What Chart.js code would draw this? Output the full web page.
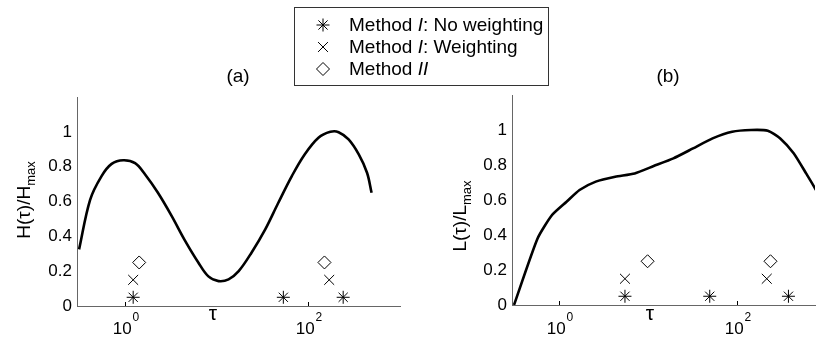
<!DOCTYPE html>
<html lang="en">
<head>
<meta charset="UTF-8">
<title>H and L vs tau</title>
<script src="https://cdn.jsdelivr.net/npm/chart.js"></script>
<style>
  body { margin: 0; background: #fff; }
  .wrap { position: relative; width: 823px; height: 340px; }
  .wrap canvas { position: absolute; left: 0; top: 0; }
</style>
</head>
<body>
<div class="wrap">
  <canvas id="chartA" width="823" height="340"></canvas>
  <canvas id="chartB" width="823" height="340"></canvas>
</div>
<script>
// panel (a): H(tau)/Hmax
const tauA = [0.316, 0.417, 0.556, 0.716, 0.959, 1.29, 1.66, 2.29, 3.24, 4.47, 6.31, 8.13, 10.5, 13.5, 17.4, 24.0, 33.9, 46.8, 66.1, 91.2, 129, 174, 214, 275, 355, 437, 490];
const hA = [0.325, 0.61, 0.746, 0.816, 0.837, 0.82, 0.755, 0.65, 0.516, 0.38, 0.25, 0.17, 0.143, 0.153, 0.2, 0.306, 0.44, 0.59, 0.746, 0.87, 0.966, 1.0, 0.998, 0.956, 0.87, 0.765, 0.65];
// panel (b): L(tau)/Lmax
const tauB = [0.316, 0.581, 0.845, 1.23, 1.72, 2.62, 4.33, 7.16, 11.7, 19.5, 32.4, 53.7, 89.1, 145, 224, 309, 437, 603, 776, 891];
const lB = [0, 0.38, 0.514, 0.59, 0.657, 0.705, 0.733, 0.752, 0.794, 0.838, 0.895, 0.952, 0.99, 1.0, 0.996, 0.952, 0.867, 0.752, 0.657, 0.57];

// estimated time scales from each method
const noWeightA = [[1.23, 0.05], [53.4, 0.05], [240, 0.05]];
const weightA = [[1.23, 0.15], [169, 0.15]];
const methodTwoA = [[1.43, 0.25], [150, 0.25]];
const noWeightB = [[5.57, 0.05], [49.9, 0.05], [382, 0.05]];
const weightB = [[5.57, 0.15], [218, 0.15]];
const methodTwoB = [[10, 0.25], [240, 0.25]];

const yTicks = [0, 0.2, 0.4, 0.6, 0.8, 1];
const xTicks = [1, 100];
const legendLabels = [['Method ', 'I', ': No weighting'], ['Method ', 'I', ': Weighting'], ['Method ', 'II', '']];

const FONT = '"Liberation Sans", Arial, Helvetica, sans-serif';
const toPts = arr => arr.map(p => ({ x: p[0], y: p[1] }));

function markerSet(label, pts, style, r) {
  return {
    label: label, data: toPts(pts), showLine: false,
    pointStyle: style, pointRadius: r, pointHoverRadius: r,
    borderColor: '#000', backgroundColor: 'rgba(0,0,0,0)', pointBorderWidth: 1
  };
}

// axes text, inside ticks, subscripts and superscripts
const decor = {
  id: 'decor',
  afterDraw(chart, args, opts) {
    const ctx = chart.ctx;
    const xs = chart.scales.x;
    const area = chart.chartArea;
    ctx.save();
    ctx.fillStyle = '#000';
    ctx.strokeStyle = '#000';
    ctx.lineWidth = 1;
    // inward x ticks and 10^n labels
    xTicks.forEach(v => {
      const px = Math.round(xs.getPixelForValue(v)) + 0.5;
      ctx.beginPath();
      ctx.moveTo(px, area.bottom);
      ctx.lineTo(px, area.bottom - 4);
      ctx.stroke();
      const exp = String(Math.round(Math.log10(v)));
      ctx.font = '17px ' + FONT;
      const wb = ctx.measureText('10').width;
      ctx.font = '12px ' + FONT;
      const we = ctx.measureText(exp).width;
      const x0 = px - (wb + we) / 2;
      ctx.textBaseline = 'alphabetic';
      ctx.textAlign = 'left';
      ctx.font = '17px ' + FONT;
      ctx.fillText('10', x0, 334);
      ctx.font = '12px ' + FONT;
      ctx.fillText(exp, x0 + wb + 1, 321);
    });
    // x label
    ctx.font = '21px ' + FONT;
    ctx.textAlign = 'center';
    ctx.fillText('\u03c4', opts.tauX, 320);
    // title
    ctx.font = '19px ' + FONT;
    ctx.fillText(opts.title, opts.titleX, 82);
    // y label rotated with subscript
    ctx.translate(opts.yLabX, opts.yLabY);
    ctx.rotate(-Math.PI / 2);
    ctx.font = '19px ' + FONT;
    const main = opts.yLab + '(\u03c4)/' + opts.yLab;
    const wm = ctx.measureText(main).width;
    ctx.font = '13px ' + FONT;
    const ws = ctx.measureText('max').width;
    ctx.textAlign = 'left';
    const sx = -(wm + ws) / 2;
    ctx.font = '19px ' + FONT;
    ctx.fillText(main, sx, 0);
    ctx.font = '13px ' + FONT;
    ctx.fillText('max', sx + wm, 5);
    ctx.restore();
  }
};

// shared legend box drawn on panel (a)
const legendBox = {
  id: 'legendBox',
  afterDraw(chart) {
    const ctx = chart.ctx;
    ctx.save();
    ctx.fillStyle = '#fff';
    ctx.fillRect(294, 7, 255, 78);
    ctx.strokeStyle = '#333';
    ctx.lineWidth = 1;
    ctx.strokeRect(294.5, 7.5, 254, 78);
    const styles = [['star', 6.5], ['crossRot', 7], ['rectRot', 6.5]];
    const rows = [25, 47, 69];
    rows.forEach((y, i) => {
      ctx.strokeStyle = '#000';
      ctx.fillStyle = 'rgba(0,0,0,0)';
      ctx.lineWidth = 1;
      Chart.helpers.drawPoint(ctx, { pointStyle: styles[i][0], radius: styles[i][1], borderWidth: 1 }, 323, y);
      ctx.fillStyle = '#000';
      ctx.textBaseline = 'middle';
      ctx.textAlign = 'left';
      let x = 349;
      legendLabels[i].forEach((t, k) => {
        ctx.font = (k === 1 ? 'italic ' : '') + '19px ' + FONT;
        ctx.fillText(t, x, y + 1);
        x += ctx.measureText(t).width;
      });
    });
    ctx.restore();
  }
};

function makeChart(id, tau, vals, marks, xMax, tension, pad, decoOpts, extra) {
  return new Chart(document.getElementById(id), {
    type: 'scatter',
    data: {
      datasets: [
        {
          label: 'curve', data: tau.map((t, i) => ({ x: t, y: vals[i] })),
          showLine: true, borderColor: '#000', borderWidth: 2.6,
          pointRadius: 0, tension: tension, fill: false
        },
        markerSet('Method I: No weighting', marks[0], 'star', 6.5),
        markerSet('Method I: Weighting', marks[1], 'crossRot', 7),
        markerSet('Method II', marks[2], 'rectRot', 6.5)
      ]
    },
    options: {
      responsive: false,
      animation: false,
      layout: { padding: pad },
      plugins: { legend: { display: false }, tooltip: { enabled: false }, decor: decoOpts },
      scales: {
        x: {
          type: 'logarithmic', min: 0.316, max: xMax,
          afterBuildTicks: s => { s.ticks = xTicks.map(v => ({ value: v })); },
          afterFit: s => { s.height = 0; },
          ticks: { display: false },
          grid: { display: false },
          border: { color: '#666', width: 1 }
        },
        y: {
          min: 0, max: 1.2,
          afterBuildTicks: s => { s.ticks = yTicks.map(v => ({ value: v })); },
          afterFit: s => { s.width = 34; },
          ticks: {
            color: '#000', padding: 5,
            font: { family: FONT, size: 17 },
            callback: v => String(v)
          },
          grid: { display: false, drawTicks: false },
          border: { color: '#666', width: 1 }
        }
      }
    },
    plugins: extra
  });
}

makeChart('chartA', tauA, hA, [noWeightA, weightA, methodTwoA], 1000, 0.35,
  { left: 43, right: 423, top: 97, bottom: 34 },
  { title: '(a)', titleX: 238, tauX: 213, yLab: 'H', yLabX: 30, yLabY: 200 },
  [decor, legendBox]);

makeChart('chartB', tauB, lB, [noWeightB, weightB, methodTwoB], 759, 0.2,
  { left: 478, right: 0, top: 95, bottom: 35 },
  { title: '(b)', titleX: 668, tauX: 650, yLab: 'L', yLabX: 466, yLabY: 216 },
  [decor]);
</script>
</body>
</html>
